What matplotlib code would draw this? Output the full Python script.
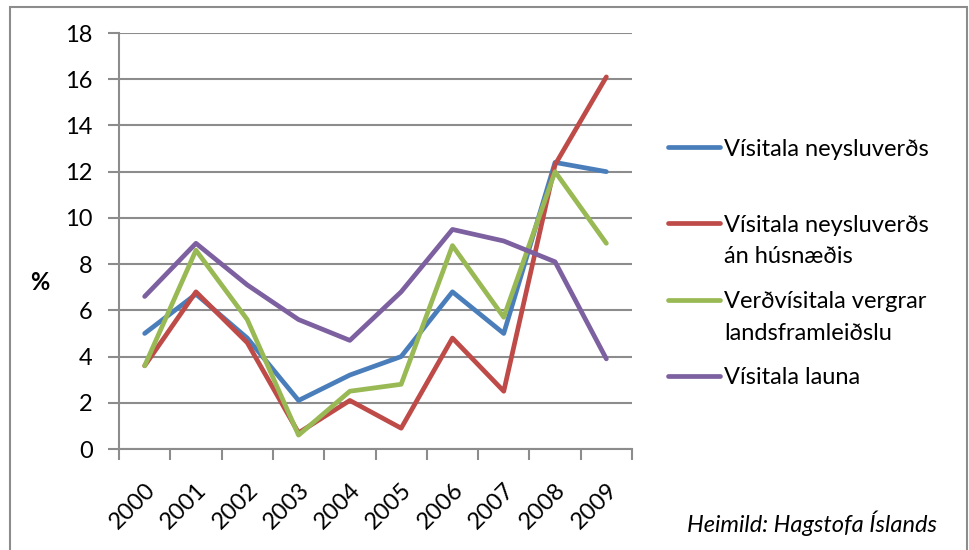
import matplotlib
matplotlib.use("Agg")
import matplotlib.pyplot as plt
from matplotlib.lines import Line2D
from matplotlib.patches import Rectangle

years = ["2000", "2001", "2002", "2003", "2004", "2005", "2006", "2007", "2008", "2009"]
visitala_neysluverds = [5.0, 6.7, 4.8, 2.1, 3.2, 4.0, 6.8, 5.0, 12.4, 12.0]
visitala_an_husnaedis = [3.6, 6.8, 4.6, 0.7, 2.1, 0.9, 4.8, 2.5, 12.3, 16.1]
verdvisitala_vlf = [3.6, 8.6, 5.6, 0.6, 2.5, 2.8, 8.8, 5.7, 12.0, 8.9]
visitala_launa = [6.6, 8.9, 7.1, 5.6, 4.7, 6.8, 9.5, 9.0, 8.1, 3.9]

series = [
    ("Vísitala neysluverðs", visitala_neysluverds, "#4A7EBB"),
    ("Vísitala neysluverðs\nán húsnæðis", visitala_an_husnaedis, "#BE4B48"),
    ("Verðvísitala vergrar\nlandsframleiðslu", verdvisitala_vlf, "#98B954"),
    ("Vísitala launa", visitala_launa, "#7D60A0"),
]

plt.rcParams['font.family'] = ['Lato', 'DejaVu Sans']

W, H = 969, 550
FS = 17
fig = plt.figure(figsize=(W / 100, H / 100), dpi=100)
fig.patch.set_facecolor("white")

# outer frame
fig.add_artist(Rectangle((10 / W, -0.01), (967 - 10) / W, 1.01 - 7 / H,
                         transform=fig.transFigure, fill=False,
                         edgecolor="#8c8c8c", linewidth=1.5))

ax = fig.add_axes([119 / W, 1 - 449 / H, (632 - 119) / W, (449 - 33) / H])
x = list(range(len(years)))
for label, vals, color in series:
    ax.plot(x, vals, color=color, linewidth=3.4, solid_capstyle="round",
            solid_joinstyle="round", label=label)

ax.set_xlim(-0.5, len(years) - 0.5)
ax.set_ylim(0, 18)
ax.set_yticks(range(0, 19, 2))
ax.grid(axis="y", color="#8c8c8c", linewidth=1.5)
ax.set_axisbelow(True)
for s in ["top", "right"]:
    ax.spines[s].set_visible(False)
for s in ["left", "bottom"]:
    ax.spines[s].set_color("#8c8c8c")
    ax.spines[s].set_linewidth(1.5)

ax.set_xticks([i - 0.5 for i in range(len(years) + 1)], minor=False)
ax.set_xticklabels([])
ax.set_xticks(x, minor=True)
ax.set_xticklabels(years, minor=True, rotation=45, ha="right",
                   rotation_mode="anchor", fontsize=FS)
ax.tick_params(axis="x", which="major", length=8, width=1.5, color="#8c8c8c",
               direction="out")
ax.tick_params(axis="x", which="minor", length=0, pad=22)
ax.tick_params(axis="y", length=8, width=1.5, color="#8c8c8c", labelsize=FS,
               pad=11)

fig.text(40 / W, 1 - 283 / H, "%", fontsize=FS, fontweight="bold",
         ha="center", va="center")

# legend
ys = [147, 223, 300, 376]
for (label, vals, color), yy in zip(series, ys):
    fy = 1 - yy / H
    fig.add_artist(Line2D([668 / W, 720 / W], [fy, fy], transform=fig.transFigure,
                          color=color, linewidth=3.4, solid_capstyle="round"))
    for k, part in enumerate(label.split("\n")):
        fig.text(724 / W, 1 - (yy + 8.5 + 32 * k) / H, part, fontsize=FS,
                 ha="left", va="baseline")

fig.text(937 / W, 1 - 523 / H, "Heimild: Hagstofa Íslands", fontsize=FS,
         style="italic", ha="right", va="center")

fig.savefig("out.png", dpi=100, facecolor="white")
